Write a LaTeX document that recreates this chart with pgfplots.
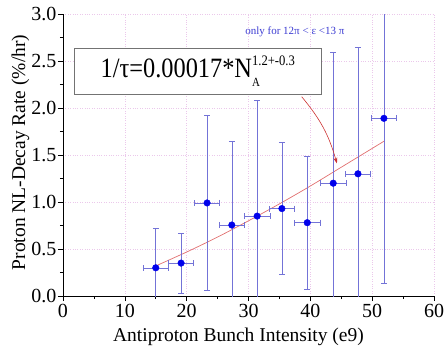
\documentclass[border=0pt]{standalone}
\usepackage{pgfplots}
\pgfplotsset{compat=1.18}
\usepackage{fontspec}
\setmainfont{Liberation Serif}
\usetikzlibrary{arrows.meta}
\definecolor{gridpink}{RGB}{235,200,235}
\definecolor{errblue}{RGB}{115,115,215}
\definecolor{ptblue}{RGB}{0,0,235}
\definecolor{fitred}{RGB}{225,110,110}
\definecolor{arrred}{RGB}{205,50,50}
\definecolor{txtblue}{RGB}{60,60,210}
\pgfplotstableread{
x y ex ey
15.0 0.30 2.05 0.42
19.1 0.35 2.05 0.32
23.3 0.99 2.05 0.93
27.3 0.755 2.05 0.89
31.4 0.85 2.05 1.23
35.4 0.93 2.05 0.70
39.5 0.78 2.05 0.71
43.7 1.20 2.05 1.39
47.7 1.30 2.05 1.35
51.9 1.89 2.05 1.76
}\datatable
\pgfplotstableread{
x y
15 0.32
20 0.468
25 0.627
30 0.80
35 0.98
40 1.17
45 1.37
50 1.57
52 1.65
}\fittable
\begin{document}
\begin{tikzpicture}
\begin{axis}[
  scale only axis, width=371pt, height=282pt,
  xmin=0, xmax=60, ymin=0, ymax=3.0,
  axis lines=left, axis line style={-, line width=0.8pt},
  xtick={0,10,...,60}, ytick={0,0.5,...,3.0},
  minor x tick num=1, minor y tick num=1,
  tick align=outside,
  major tick length=5pt, minor tick length=3pt,
  tick style={black, line width=0.6pt},
  grid=major, major grid style={gridpink, dotted, line width=0.6pt},
  /pgf/number format/assume math mode=true,
  /pgf/number format/.cd, fixed, fixed zerofill, precision=1, /pgfplots/.cd,
  xticklabel style={/pgf/number format/precision=0, /pgf/number format/fixed zerofill=false},
  ticklabel style={font=\fontsize{20}{20}\selectfont},
  yticklabel style={xshift=2pt},
  xlabel={Antiproton Bunch Intensity (e9)},
  ylabel={Proton NL-Decay Rate (\%/hr)},
  label style={font=\fontsize{19.5}{19.5}\selectfont},
  xlabel style={at={(axis description cs:0.473,-0.162)}, anchor=base},
  ylabel style={at={(axis description cs:-0.1024,0.509)}, anchor=base},
  clip=true,
]
\addplot[fitred, line width=0.7pt, smooth] table[x=x,y=y] {\fittable};
\addplot[only marks, mark=*, mark size=3.3pt, mark options={ptblue, fill=ptblue},
  error bars/.cd, x dir=both, x explicit, y dir=both, y explicit,
  error bar style={errblue, line width=0.6pt},
  error mark options={rotate=90, mark size=3pt, errblue, line width=0.6pt}]
  table[x=x, y=y, x error=ex, y error=ey] {\datatable};
\node[draw=black!55, line width=1pt, fill=white, minimum width=247pt, minimum height=46pt, inner sep=0pt]
  at (axis cs:21.8,2.39) {\scalebox{0.87}[1]{\fontsize{28}{28}\selectfont 1/τ=0.00017*N\raisebox{-9pt}{\makebox[0pt][l]{\fontsize{12.5}{12.5}\selectfont A}}\raisebox{12.6pt}{\fontsize{14.5}{14.5}\selectfont 1.2+-0.3}}};
\node[text=txtblue, font=\fontsize{11}{11}\selectfont] at (axis cs:37.5,2.81) {only for 12π < ε <13 π};
\draw[arrred, line width=0.6pt, -{Stealth[length=6pt,width=4pt]}] (axis cs:38.6,2.12) to[bend left=12] (axis cs:44.3,1.41);
\end{axis}
\pgfresetboundingbox
\useasboundingbox (-63pt,-55pt) rectangle (381pt,296pt);
\end{tikzpicture}
\end{document}
